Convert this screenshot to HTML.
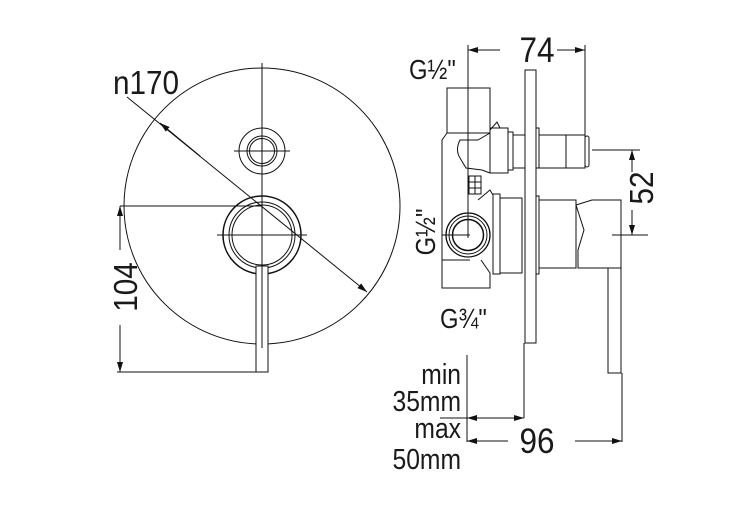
<!DOCTYPE html>
<html><head><style>
html,body{margin:0;padding:0;background:#fff;}
svg{display:block;}
text{font-family:"Liberation Sans",sans-serif;fill:#1a1a1a;}
</style></head><body>
<svg width="730" height="510" viewBox="0 0 730 510" xmlns="http://www.w3.org/2000/svg">
<defs>
<marker id="a" viewBox="0 0 10 6" refX="10" refY="3" markerWidth="10" markerHeight="6" orient="auto-start-reverse" markerUnits="userSpaceOnUse">
<path d="M0,0 L10,3 L0,6 z" fill="#111"/></marker>
</defs>
<g fill="none" stroke="#111" stroke-width="1">
<circle cx="262" cy="206" r="138"/>
<line x1="262" y1="63" x2="262" y2="350"/>
<circle cx="262" cy="151" r="23"/>
<circle cx="262" cy="151" r="15"/>
<circle cx="262" cy="151" r="12.5"/>
<line x1="234" y1="151" x2="290" y2="151"/>
<circle cx="262" cy="235" r="39" stroke-width="1.5"/>
<circle cx="262" cy="235" r="33"/>
<circle cx="262" cy="235" r="30"/>
<line x1="217" y1="235" x2="307" y2="235"/>
<rect x="256" y="266" width="12" height="106" fill="#fff"/>
<line x1="262" y1="266" x2="262" y2="348"/>
<line x1="120" y1="206" x2="262" y2="206"/>
<line x1="117" y1="372" x2="256" y2="372"/>
<line x1="120" y1="250" x2="120" y2="206" marker-end="url(#a)"/>
<line x1="120" y1="325" x2="120" y2="372" marker-end="url(#a)"/>
<line x1="127" y1="97" x2="367" y2="292" marker-end="url(#a)"/>
<line x1="200" y1="156" x2="160" y2="123" marker-end="url(#a)"/>

<rect x="525" y="70" width="11" height="273"/>
<rect x="447" y="88" width="43" height="45"/>
<path d="M447,133 L442,140 L442,288 L490,288 L490,273 L481,260 M490,133 L490,130 L497,122 L500,128"/>
<line x1="442" y1="260" x2="470" y2="260"/>
<path d="M490,128 L508,128 L508,173 L490,173 Z"/>
<path d="M490,133 L478,140 L460,140 Q455,150 460,158 L466,168 L482,170 L490,173"/>
<rect x="508" y="132" width="5" height="38"/>
<rect x="513" y="135" width="12" height="33"/>
<rect x="469" y="176" width="12" height="18"/>
<line x1="469" y1="182" x2="481" y2="182"/><line x1="469" y1="188" x2="481" y2="188"/><line x1="475" y1="176" x2="475" y2="194"/>
<path d="M478,200 L490,190 L493,195"/>
<rect x="493" y="194" width="7" height="80"/>
<rect x="500" y="198" width="22" height="75"/>
<circle cx="468" cy="235" r="22" stroke-width="1.3"/>
<circle cx="468" cy="235" r="19"/>
<circle cx="468" cy="235" r="15.5" stroke-width="1.5"/>
<line x1="442" y1="235" x2="470" y2="235"/>
<rect x="536" y="128" width="3" height="40"/>
<rect x="539" y="135" width="27" height="33"/>
<rect x="566" y="135" width="19" height="33"/>
<rect x="585" y="136" width="4" height="31" rx="2"/>
<rect x="536" y="196" width="3" height="78"/>
<rect x="539" y="200" width="37" height="68"/>
<path d="M576,205 L592,200 L621,200 L621,268 L578,268 L578,250 L584,230 Z"/>
<rect x="608" y="268" width="13" height="105"/>
<line x1="468" y1="45" x2="468" y2="238"/>
<line x1="585" y1="45" x2="585" y2="135"/>
<line x1="500" y1="50" x2="468" y2="50" marker-end="url(#a)"/>
<line x1="557" y1="50" x2="585" y2="50" marker-end="url(#a)"/>
<line x1="592" y1="150" x2="640" y2="150"/>
<line x1="612" y1="235" x2="648" y2="235"/>
<line x1="632" y1="172" x2="632" y2="150" marker-end="url(#a)"/>
<line x1="632" y1="210" x2="632" y2="235" marker-end="url(#a)"/>
<line x1="467" y1="355" x2="467" y2="442"/>
<line x1="524" y1="343" x2="524" y2="418"/>
<line x1="622" y1="373" x2="622" y2="442"/>
<line x1="440" y1="418" x2="467" y2="418"/>
<line x1="495" y1="418" x2="467" y2="418" marker-end="url(#a)"/>
<line x1="495" y1="418" x2="524" y2="418" marker-end="url(#a)"/>
<line x1="508" y1="441" x2="467" y2="441" marker-end="url(#a)"/>
<line x1="575" y1="441" x2="622" y2="441" marker-end="url(#a)"/>
</g>
<text transform="translate(113,94) scale(0.9,1)" font-size="33">n170</text>
<text transform="translate(137,287) rotate(-90) scale(0.9,1)" font-size="33" text-anchor="middle">104</text>
<text transform="translate(537,62) scale(0.9,1)" font-size="35" text-anchor="middle">74</text>
<text transform="translate(653,188) rotate(-90) scale(0.9,1)" font-size="33" text-anchor="middle">52</text>
<text transform="translate(537,453) scale(0.9,1)" font-size="35" text-anchor="middle">96</text>
<text transform="translate(409,79) scale(0.85,1)" font-size="28">G½"</text>
<text transform="translate(435,232) rotate(-90) scale(0.85,1)" font-size="28" text-anchor="middle">G½"</text>
<text transform="translate(440,328) scale(0.85,1)" font-size="28">G¾"</text>
<text transform="translate(461,384) scale(0.85,1)" font-size="29" text-anchor="end">min</text>
<text transform="translate(461,411) scale(0.85,1)" font-size="29" text-anchor="end">35mm</text>
<text transform="translate(461,438) scale(0.85,1)" font-size="29" text-anchor="end">max</text>
<text transform="translate(461,469) scale(0.85,1)" font-size="29" text-anchor="end">50mm</text>
</svg>
</body></html>
